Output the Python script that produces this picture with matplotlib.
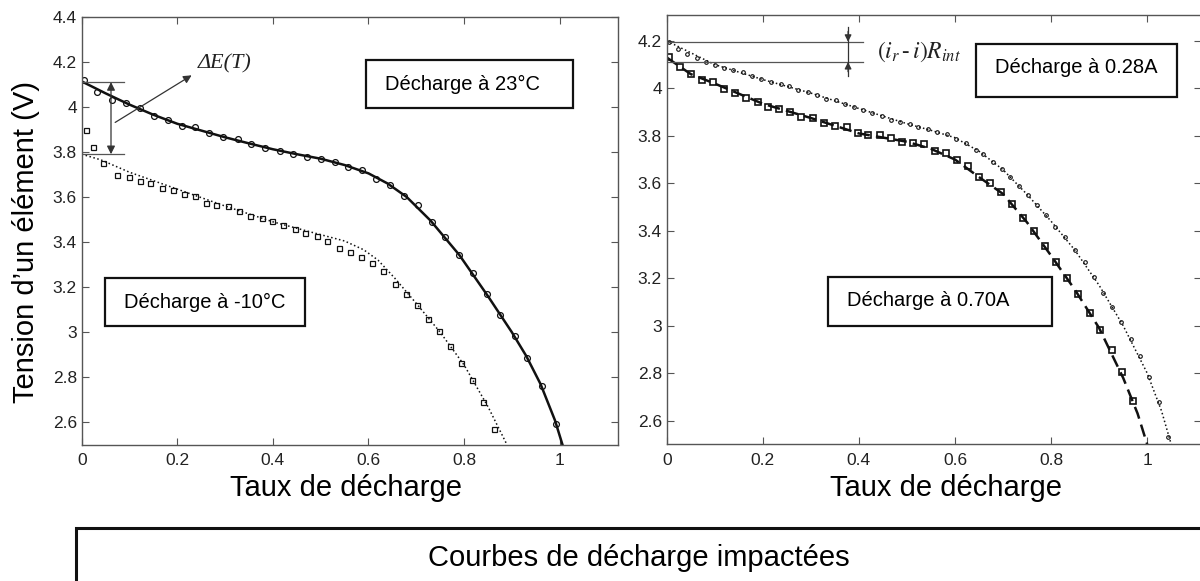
import matplotlib
matplotlib.use("Agg")
import matplotlib.pyplot as plt
from matplotlib.patches import Rectangle
from matplotlib.ticker import FormatStrFormatter
import numpy as np

plt.rcParams['font.family'] = ['Liberation Sans', 'DejaVu Sans']
plt.rcParams['mathtext.fontset'] = 'stix'

# --- left panel: 23°C (circles, solid fit) and -10°C (squares, dotted fit)
x_23 = [0.005, 0.033, 0.063, 0.093, 0.122, 0.151, 0.180, 0.209, 0.238, 0.266,
        0.295, 0.326, 0.354, 0.383, 0.414, 0.442, 0.471, 0.500, 0.529, 0.558,
        0.586, 0.615, 0.644, 0.675, 0.703, 0.732, 0.760, 0.790, 0.819, 0.847,
        0.876, 0.906, 0.932, 0.962, 0.992]
v_23 = [4.120, 4.068, 4.031, 4.018, 3.994, 3.961, 3.942, 3.917, 3.909, 3.885,
        3.867, 3.857, 3.835, 3.817, 3.805, 3.790, 3.779, 3.768, 3.757, 3.733,
        3.720, 3.681, 3.653, 3.605, 3.564, 3.489, 3.421, 3.341, 3.262, 3.168,
        3.076, 2.982, 2.885, 2.760, 2.592]
fit_23_x = [0, 0.05, 0.1, 0.15, 0.2, 0.25, 0.3, 0.35, 0.4, 0.45, 0.5, 0.55,
            0.6, 0.64, 0.68, 0.73, 0.79, 0.85, 0.9, 0.93, 0.96, 0.99, 1.006]
fit_23_v = [4.113, 4.06, 4.01, 3.965, 3.925, 3.895, 3.865, 3.838, 3.812, 3.79,
            3.77, 3.742, 3.705, 3.66, 3.60, 3.495, 3.343, 3.16, 3.0, 2.895,
            2.77, 2.61, 2.5]

x_m10 = [0.008, 0.023, 0.045, 0.074, 0.098, 0.121, 0.143, 0.167, 0.191, 0.213,
         0.237, 0.260, 0.282, 0.306, 0.330, 0.353, 0.377, 0.399, 0.422, 0.446,
         0.468, 0.492, 0.514, 0.538, 0.562, 0.585, 0.607, 0.631, 0.655, 0.678,
         0.702, 0.724, 0.747, 0.771, 0.794, 0.817, 0.840, 0.863]
v_m10 = [3.899, 3.823, 3.753, 3.698, 3.690, 3.671, 3.664, 3.641, 3.631, 3.612,
         3.604, 3.574, 3.566, 3.559, 3.537, 3.515, 3.507, 3.492, 3.478, 3.458,
         3.440, 3.425, 3.406, 3.373, 3.355, 3.332, 3.309, 3.272, 3.213, 3.172,
         3.120, 3.061, 3.006, 2.939, 2.863, 2.790, 2.689, 2.570]
fit_m10_x = [0, 0.04, 0.1, 0.2, 0.3, 0.4, 0.5, 0.55, 0.59, 0.62, 0.655, 0.7,
             0.75, 0.8, 0.85, 0.89]
fit_m10_v = [3.79, 3.765, 3.71, 3.635, 3.56, 3.49, 3.433, 3.405, 3.366, 3.32,
             3.24, 3.128, 3.0, 2.855, 2.67, 2.5]

# --- right panel: 0.28A (small circles, dotted) and 0.70A (squares, dashed)
x_028 = [0.004, 0.024, 0.043, 0.063, 0.081, 0.101, 0.120, 0.139, 0.158, 0.178,
         0.197, 0.217, 0.237, 0.255, 0.274, 0.294, 0.313, 0.332, 0.352, 0.372,
         0.390, 0.408, 0.428, 0.448, 0.466, 0.486, 0.506, 0.523, 0.543, 0.563,
         0.583, 0.603, 0.623, 0.643, 0.659, 0.679, 0.697, 0.715, 0.733, 0.752,
         0.771, 0.790, 0.809, 0.829, 0.850, 0.870, 0.890, 0.908, 0.926, 0.946,
         0.966, 0.986, 1.004, 1.024, 1.044]
v_028 = [4.196, 4.164, 4.143, 4.126, 4.112, 4.100, 4.084, 4.077, 4.070, 4.051,
         4.040, 4.027, 4.017, 4.008, 3.995, 3.985, 3.971, 3.957, 3.950, 3.933,
         3.922, 3.908, 3.894, 3.883, 3.868, 3.859, 3.849, 3.837, 3.830, 3.816,
         3.806, 3.788, 3.770, 3.742, 3.722, 3.690, 3.662, 3.626, 3.588, 3.549,
         3.507, 3.465, 3.415, 3.373, 3.317, 3.267, 3.204, 3.137, 3.078, 3.014,
         2.944, 2.874, 2.782, 2.677, 2.532]
fit_028_x = [0, 0.1, 0.2, 0.3, 0.4, 0.5, 0.55, 0.6, 0.65, 0.7, 0.75, 0.8,
             0.85, 0.9, 0.95, 1.0, 1.03, 1.05]
fit_028_v = [4.2, 4.1, 4.037, 3.98, 3.915, 3.851, 3.823, 3.792, 3.735, 3.657,
             3.553, 3.44, 3.317, 3.17, 3.0, 2.8, 2.64, 2.5]

x_070 = [0.004, 0.027, 0.051, 0.074, 0.096, 0.120, 0.143, 0.166, 0.189, 0.211,
         0.234, 0.257, 0.280, 0.304, 0.328, 0.351, 0.375, 0.398, 0.420, 0.444,
         0.466, 0.489, 0.512, 0.535, 0.559, 0.581, 0.604, 0.627, 0.650, 0.673,
         0.696, 0.719, 0.742, 0.765, 0.788, 0.810, 0.833, 0.857, 0.880, 0.902,
         0.926, 0.948, 0.971]
v_070 = [4.130, 4.088, 4.060, 4.034, 4.025, 3.999, 3.982, 3.961, 3.943, 3.922,
         3.915, 3.900, 3.879, 3.873, 3.854, 3.840, 3.837, 3.812, 3.805, 3.802,
         3.791, 3.774, 3.770, 3.767, 3.736, 3.727, 3.697, 3.671, 3.626, 3.603,
         3.563, 3.511, 3.455, 3.398, 3.334, 3.267, 3.202, 3.134, 3.054, 2.982,
         2.899, 2.803, 2.684]
fit_070_x = [0, 0.05, 0.1, 0.2, 0.3, 0.4, 0.5, 0.55, 0.6, 0.65, 0.7, 0.75,
             0.8, 0.85, 0.9, 0.95, 0.98, 1.0]
fit_070_v = [4.13, 4.06, 4.02, 3.935, 3.875, 3.81, 3.775, 3.745, 3.70, 3.626,
             3.555, 3.435, 3.295, 3.15, 2.99, 2.78, 2.63, 2.5]

x_ticks = [0, 0.2, 0.4, 0.6, 0.8, 1]
left_yticks = [2.6, 2.8, 3.0, 3.2, 3.4, 3.6, 3.8, 4.0, 4.2, 4.4]
right_yticks = [2.6, 2.8, 3.0, 3.2, 3.4, 3.6, 3.8, 4.0, 4.2]

W, H = 1200, 581
fig = plt.figure(figsize=(W / 100, H / 100), dpi=100)

def px_axes(x0, y0, x1, y1):
    return fig.add_axes([x0 / W, 1 - y1 / H, (x1 - x0) / W, (y1 - y0) / H])

axL = px_axes(81.7, 16.7, 618.3, 445.0)
axR = px_axes(666.7, 15.0, 1200.5, 444.3)

ink = '#111111'
grey = '#555555'

for ax in (axL, axR):
    for s in ax.spines.values():
        s.set_color(grey)
        s.set_linewidth(1.0)
    ax.tick_params(direction='in', top=True, right=True, length=5, width=0.8,
                   color=grey, labelsize=12.5, labelcolor='#222222')
    ax.tick_params(axis='x', pad=6)
    ax.tick_params(axis='y', pad=3.5)
    ax.set_xticks(x_ticks)
    ax.xaxis.set_major_formatter(FormatStrFormatter('%g'))
    ax.yaxis.set_major_formatter(FormatStrFormatter('%g'))

# left panel
axL.set_xlim(0, 1.1226)
axL.set_ylim(2.5, 4.4)
axL.set_yticks(left_yticks)
axL.plot(fit_23_x, fit_23_v, '-', color=ink, lw=1.8)
axL.plot(x_23, v_23, 'o', ms=4.2, mfc='none', mec=ink, mew=0.9)
axL.plot(fit_m10_x, fit_m10_v, ':', color=ink, lw=1.1)
axL.plot(x_m10, v_m10, 's', ms=3.6, mfc='none', mec=ink, mew=0.9)

# right panel
axR.set_xlim(0, 1.111)
axR.set_ylim(2.5, 4.309)
axR.set_yticks(right_yticks)
axR.plot(fit_028_x, fit_028_v, ':', color=ink, lw=1.1)
axR.plot(x_028, v_028, 'o', ms=2.6, mfc='none', mec=ink, mew=0.8)
axR.plot(fit_070_x, fit_070_v, '--', color=ink, lw=1.8, dashes=(5, 2.5))
axR.plot(x_070, v_070, 's', ms=5, mfc='none', mec=ink, mew=1.2)

# text boxes
def label_box(ax, x0, x1, y0, y1, tx, ty, txt):
    ax.add_patch(Rectangle((x0, y0), x1 - x0, y1 - y0, fill=False,
                           ec='#111111', lw=1.6, zorder=5))
    ax.text(tx, ty, txt, fontsize=14.5, va='baseline', ha='left', zorder=6)

label_box(axL, 0.594, 1.028, 3.996, 4.21, 0.634, 4.076, 'Décharge à 23°C')
label_box(axL, 0.049, 0.467, 3.0295, 3.239, 0.0885, 3.1085, 'Décharge à -10°C')
label_box(axR, 0.6436, 1.0625, 3.9637, 4.185, 0.6836, 4.065, 'Décharge à 0.28A')
label_box(axR, 0.3358, 0.8014, 2.9975, 3.2042, 0.3758, 3.0819, 'Décharge à 0.70A')

# ΔE(T) annotation
for yv in (4.11, 3.79):
    axL.plot([0, 0.088], [yv, yv], color=grey, lw=0.9)
axL.annotate('', xy=(0.0613, 4.11), xytext=(0.0613, 3.79),
             arrowprops=dict(arrowstyle='<|-|>', color='#333333', lw=0.9,
                             shrinkA=0, shrinkB=0, mutation_scale=12))
axL.annotate('', xy=(0.230, 4.14), xytext=(0.070, 3.931),
             arrowprops=dict(arrowstyle='-|>', color='#333333', lw=0.9,
                             shrinkA=0, shrinkB=0, mutation_scale=12))
axL.text(0.2998, 4.189, 'ΔE(T)', fontsize=16, family='Liberation Serif',
         style='italic', ha='center', va='center', color='#222222')

# (i_r - i)R_int annotation
for yv in (4.196, 4.111):
    axR.plot([0, 0.4085], [yv, yv], color=grey, lw=0.9)
axR.plot([0.3775, 0.3775], [4.259, 4.051], color='#333333', lw=0.9)
axR.annotate('', xy=(0.3775, 4.196), xytext=(0.3775, 4.24),
             arrowprops=dict(arrowstyle='-|>', color='#333333', lw=0.9,
                             shrinkA=0, shrinkB=0, mutation_scale=10))
axR.annotate('', xy=(0.3775, 4.111), xytext=(0.3775, 4.07),
             arrowprops=dict(arrowstyle='-|>', color='#333333', lw=0.9,
                             shrinkA=0, shrinkB=0, mutation_scale=10))
axR.text(0.438, 4.128, r'$(i_r\,\text{-}\,i)R_{int}$', fontsize=17,
         ha='left', va='baseline', color='#222222')

# axis titles
fig.text(26 / W, 1 - 242 / H, "Tension d’un élément (V)", rotation=90,
         fontsize=21, ha='center', va='center')
fig.text(346 / W, 1 - 496.5 / H, 'Taux de décharge', fontsize=21,
         ha='center', va='baseline')
fig.text(946 / W, 1 - 496.5 / H, 'Taux de décharge', fontsize=21,
         ha='center', va='baseline')

# bottom caption box
fig.add_artist(Rectangle((76 / W, -0.3), 1.2, 0.3 + (H - 528) / H, fill=False,
                         ec='#111111', lw=2.2, transform=fig.transFigure))
fig.text(639 / W, 1 - 566 / H, 'Courbes de décharge impactées', fontsize=21,
         ha='center', va='baseline')

fig.savefig('out.png', dpi=100)
